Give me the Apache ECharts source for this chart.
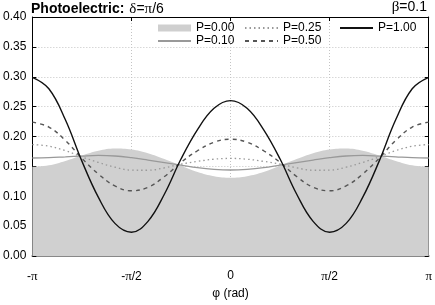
<!DOCTYPE html>
<html><head><meta charset="utf-8">
<script src="https://cdn.jsdelivr.net/npm/echarts@6/dist/echarts.min.js"></script>
<style>html,body{margin:0;padding:0;background:#fff}#c{width:435px;height:305px}</style>
</head><body><div id="c"></div>
<script>
const phiDeg = [-180,-165,-150,-135,-120,-105,-90,-75,-60,-45,-30,-15,0,15,30,45,60,75,90,105,120,135,150,165,180];
const xTickLabels = ['-π','-π/2','0','π/2','π'];
const yTickLabels = ['0.00','0.05','0.10','0.15','0.20','0.25','0.30','0.35','0.40'];
const seriesNames = ['P=0.00','P=0.10','P=0.25','P=0.50','P=1.00'];
const p000 = [0.149,0.1517,0.159,0.1682,0.1761,0.1799,0.1783,0.172,0.1622,0.151,0.1407,0.1336,0.131,0.1336,0.1407,0.151,0.1622,0.172,0.1783,0.1799,0.1761,0.1682,0.159,0.1517,0.149];
const p010 = [0.164,0.1645,0.1659,0.1673,0.1683,0.1674,0.1645,0.1606,0.1564,0.1521,0.1478,0.145,0.1439,0.145,0.1478,0.1521,0.1564,0.1606,0.1645,0.1674,0.1683,0.1673,0.1659,0.1645,0.164];
const p025 = [0.1865,0.1838,0.1763,0.1659,0.1566,0.1486,0.1437,0.1435,0.1476,0.1538,0.1584,0.162,0.1633,0.162,0.1584,0.1538,0.1476,0.1435,0.1437,0.1486,0.1566,0.1659,0.1763,0.1838,0.1865];
const p050 = [0.224,0.2158,0.1935,0.1635,0.1371,0.1173,0.1091,0.115,0.133,0.1567,0.1762,0.1904,0.1955,0.1904,0.1762,0.1567,0.133,0.115,0.1091,0.1173,0.1371,0.1635,0.1935,0.2158,0.224];
const p100 = [0.299,0.2799,0.228,0.1588,0.0981,0.0546,0.0398,0.058,0.1038,0.1623,0.2116,0.2472,0.26,0.2472,0.2116,0.1623,0.1038,0.058,0.0398,0.0546,0.0981,0.1588,0.228,0.2799,0.299];

const PI = Math.PI;
const toPts = arr => arr.map((v,i) => [phiDeg[i]*PI/180, v]);
const sans = 'Liberation Sans, Arial, Helvetica, sans-serif';
const serif = 'Liberation Serif, Times New Roman, serif';

const xLabelFmt = v => {
  const i = Math.round(v/(PI/2)) + 2;
  const s = xTickLabels[i] || '';
  return s.replace(/π/g, '{s|π}');
};
const yLabelFmt = v => {
  const i = Math.round(v/0.05);
  return yTickLabels[i] || '';
};
const gridLine = {show:true, lineStyle:{color:'#c4c4c4', width:1, type:[1,2]}};
const legendBase = {orient:'vertical', top:22, padding:0, itemWidth:33, itemHeight:7, itemGap:1,
  itemStyle:{opacity:0},
  textStyle:{fontFamily:sans,fontSize:12,color:'#000',lineHeight:12}};
const titleRich = {
  b:{fontFamily:sans,fontWeight:'bold',fontSize:14,color:'#000',lineHeight:14},
  n:{fontFamily:sans,fontWeight:'normal',fontSize:14,color:'#000',lineHeight:14},
  s:{fontFamily:serif,fontWeight:'normal',fontSize:15,color:'#000',lineHeight:14}
};

const chart = echarts.init(document.getElementById('c'), null, {renderer:'canvas'});
chart.setOption({
  animation:false,
  backgroundColor:'#fff',
  title:[
    {text:'{b|Photoelectric:} {s|δ}{n|=}{s|π}{n|/6}', left:31, top:0, padding:0,
     textStyle:{fontWeight:'normal', rich:titleRich}},
    {text:'{s|β}{n|=0.1}', right:8, top:0, padding:0,
     textStyle:{fontWeight:'normal', rich:titleRich}}
  ],
  legend:[
    Object.assign({}, legendBase, {left:157,
      data:[{name:'P=0.00', icon:'rect', itemStyle:{color:'#cfcfcf', opacity:1}}, {name:'P=0.10'}]}),
    Object.assign({}, legendBase, {left:244, data:['P=0.25','P=0.50']}),
    Object.assign({}, legendBase, {left:339, data:['P=1.00']})
  ],
  grid:{left:31, right:6, top:17, bottom:38, containLabel:false},
  xAxis:[
    {type:'value', min:-PI, max:PI, interval:PI/2, position:'bottom',
     name:'φ (rad)', nameLocation:'middle', nameGap:32,
     nameTextStyle:{fontFamily:sans,fontSize:12,color:'#000'},
     axisLine:{show:true, onZero:false, lineStyle:{color:'#888', width:2}},
     axisTick:{show:true, inside:true, length:4, lineStyle:{color:'#000'}},
     axisLabel:{formatter:xLabelFmt, margin:14, fontFamily:sans, fontSize:12, color:'#000',
                rich:{s:{fontFamily:serif,fontSize:13,color:'#000'}}},
     splitLine:gridLine},
    {type:'value', min:-PI, max:PI, interval:PI/2, position:'top',
     axisLine:{show:true, onZero:false, lineStyle:{color:'#000', width:1}},
     axisTick:{show:true, inside:true, length:4, lineStyle:{color:'#000'}},
     axisLabel:{show:false}, splitLine:{show:false}}
  ],
  yAxis:[
    {type:'value', min:0, max:0.4, interval:0.05, position:'left',
     axisLine:{show:true, onZero:false, lineStyle:{color:'#000', width:1}},
     axisTick:{show:true, inside:true, length:4, lineStyle:{color:'#000'}},
     axisLabel:{formatter:yLabelFmt, margin:6, fontFamily:sans, fontSize:12, color:'#000'},
     splitLine:gridLine},
    {type:'value', min:0, max:0.4, interval:0.05, position:'right',
     axisLine:{show:true, onZero:false, lineStyle:{color:'#000', width:1}},
     axisTick:{show:true, inside:true, length:4, lineStyle:{color:'#000'}},
     axisLabel:{show:false}, splitLine:{show:false}}
  ],
  series:[
    {name:seriesNames[0], type:'line', data:toPts(p000), smooth:0.4, symbol:'none',
     lineStyle:{width:0, color:'#d0d0d0'}, itemStyle:{color:'#d0d0d0'},
     areaStyle:{color:'#d0d0d0', opacity:1}, z:1},
    {name:seriesNames[1], type:'line', data:toPts(p010), smooth:0.4, symbol:'none',
     lineStyle:{width:1.3, color:'#999'}, itemStyle:{color:'#999'}, z:3},
    {name:seriesNames[2], type:'line', data:toPts(p025), smooth:0.4, symbol:'none',
     lineStyle:{width:1.3, color:'#999', type:[1.5,3]}, itemStyle:{color:'#999'}, z:3},
    {name:seriesNames[3], type:'line', data:toPts(p050), smooth:0.4, symbol:'none',
     lineStyle:{width:1.4, color:'#555', type:[4,4]}, itemStyle:{color:'#555'}, z:3},
    {name:seriesNames[4], type:'line', data:toPts(p100), smooth:0.4, symbol:'none',
     lineStyle:{width:1.4, color:'#111'}, itemStyle:{color:'#111'}, z:4}
  ]
});
</script></body></html>
